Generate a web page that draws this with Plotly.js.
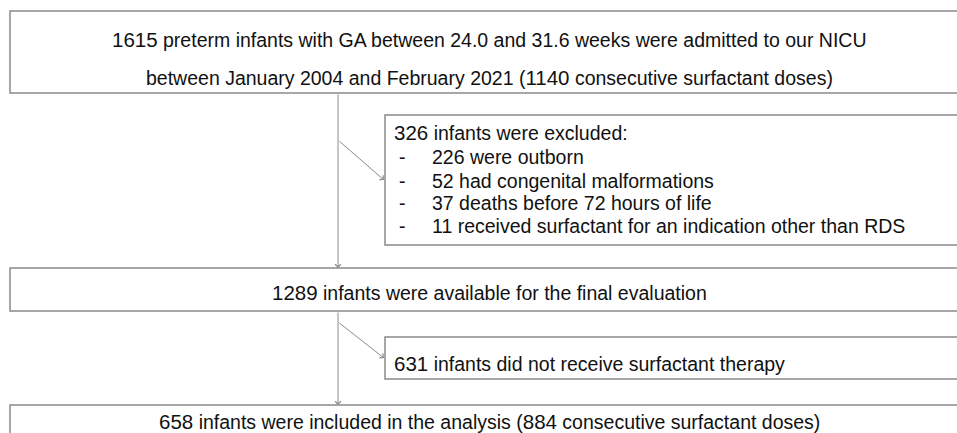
<!DOCTYPE html>
<html>
<head>
<meta charset="utf-8">
<script src="https://cdn.plot.ly/plotly-3.0.1.min.js"></script>
<style>html,body{margin:0;padding:0;background:#fff;}#chart{width:957px;height:433px;}</style>
</head>
<body>
<div id="chart"></div>
<script>
const stageCounts = [1615, 1289, 658];
const doseCounts = [1140, 884];
const exclusionTotal = 326;
const exclusionCounts = [226, 52, 37, 11];
const exclusionReasons = ["were outborn", "had congenital malformations", "deaths before 72 hours of life", "received surfactant for an indication other than RDS"];
const noSurfactantCount = 631;

// ---- layout geometry (pixel-like axis units) ----
const geo = {
  mainX0: 10, mainX1: 968, centerX: 489, spineX: 338,
  box1: [11, 93], box3: [268, 311], box5: [405, 450],
  sideX0: 385, sideX1: 968, box2: [115, 245], box4: [337, 379],
  diag1: [140, 180], diag2: [322, 358],
  line1Y: 39, line2Y: 77, box3Y: 292, box5Y: 421,
  exclY: [132, 157, 181, 203, 226], dashX: 397, itemX: 430, exclX: 392,
  box4Y: 363
};
const lineColor = '#8a8a8a';
const textColor = '#111111';
const fontFam = '"Liberation Sans", Arial, sans-serif';
const fs = 19.5;

function num(n){ return '<span style="font-size:' + (fs+1) + 'px">' + n + '</span>'; }

const shapes = [];
function rect(x0, x1, y0, y1){
  shapes.push({type:'rect', xref:'x', yref:'y', x0:x0, x1:x1, y0:y0, y1:y1,
    line:{color:lineColor, width:1.5}, fillcolor:'rgba(0,0,0,0)'});
}
rect(geo.mainX0, geo.mainX1, geo.box1[0], geo.box1[1]);
rect(geo.sideX0, geo.sideX1, geo.box2[0], geo.box2[1]);
rect(geo.mainX0, geo.mainX1, geo.box3[0], geo.box3[1]);
rect(geo.sideX0, geo.sideX1, geo.box4[0], geo.box4[1]);
rect(geo.mainX0, geo.mainX1, geo.box5[0], geo.box5[1]);

const ann = [];
function arrow(x0, y0, x1, y1){
  ann.push({xref:'x', yref:'y', axref:'x', ayref:'y', x:x1, y:y1, ax:x0, ay:y0,
    showarrow:true, arrowhead:4, arrowsize:1.1, arrowwidth:1, arrowcolor:lineColor,
    standoff:0, startstandoff:0, text:''});
}
arrow(geo.spineX, geo.box1[1], geo.spineX, geo.box3[0]);
arrow(geo.spineX, geo.diag1[0], geo.sideX0 - 1, geo.diag1[1]);
arrow(geo.spineX, geo.box3[1], geo.spineX, geo.box5[0]);
arrow(geo.spineX, geo.diag2[0], geo.sideX0 - 1, geo.diag2[1]);

function txt(x, y, s, anchor, size){
  ann.push({xref:'x', yref:'y', x:x, y:y, text:s, showarrow:false, xanchor:anchor, yanchor:'middle',
    font:{family:fontFam, size:size || fs, color:textColor}});
}
txt(geo.centerX, geo.line1Y, num(stageCounts[0]) + ' preterm infants with GA between 24.0 and 31.6 weeks were admitted to our NICU', 'center');
txt(geo.centerX, geo.line2Y, 'between January 2004 and February 2021 (' + num(doseCounts[0]) + ' consecutive surfactant doses)', 'center');
txt(geo.exclX, geo.exclY[0], num(exclusionTotal) + ' infants were excluded:', 'left');
exclusionCounts.forEach(function(c, i){
  txt(geo.dashX, geo.exclY[i+1], '-', 'left');
  txt(geo.itemX, geo.exclY[i+1], c + ' ' + exclusionReasons[i], 'left');
});
txt(geo.centerX, geo.box3Y, num(stageCounts[1]) + ' infants were available for the final evaluation', 'center');
txt(geo.exclX, geo.box4Y, num(noSurfactantCount) + ' infants did not receive surfactant therapy', 'left');
txt(geo.centerX, geo.box5Y, num(stageCounts[2]) + ' infants were included in the analysis (' + num(doseCounts[1]) + ' consecutive surfactant doses)', 'center');

const layout = {
  width:957, height:433, margin:{l:0, r:0, t:0, b:0},
  paper_bgcolor:'#ffffff', plot_bgcolor:'#ffffff',
  xaxis:{range:[0,957], visible:false, fixedrange:true},
  yaxis:{range:[433,0], visible:false, fixedrange:true},
  shapes:shapes, annotations:ann, showlegend:false
};
Plotly.newPlot('chart', [], layout, {displayModeBar:false, staticPlot:true});
</script>
</body>
</html>
